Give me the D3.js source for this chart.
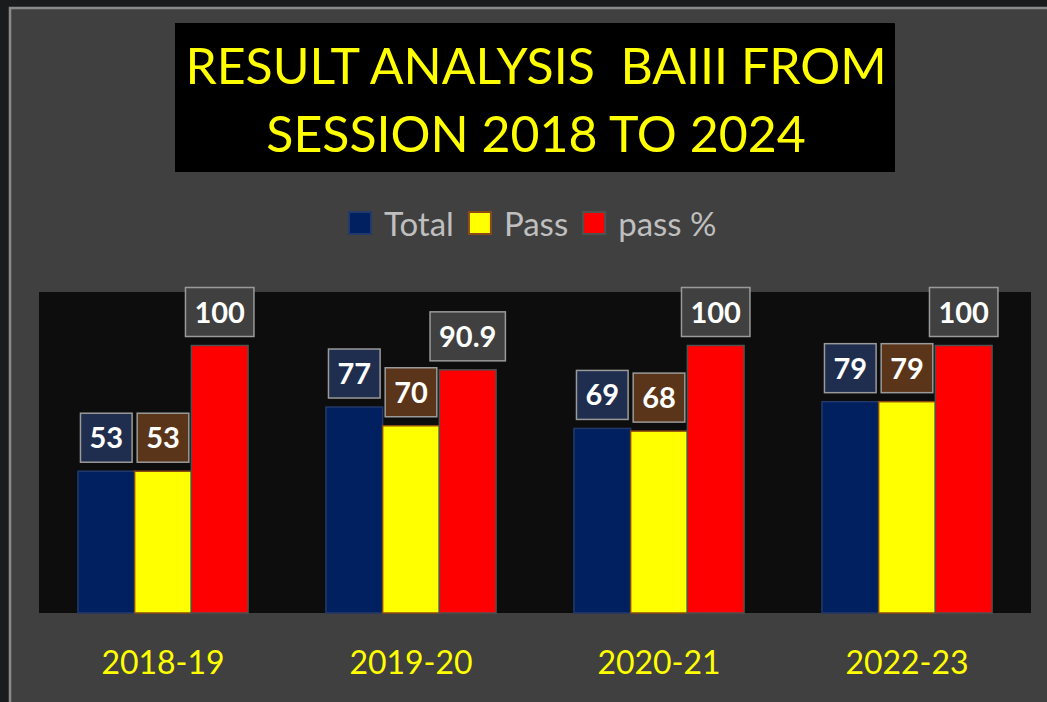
<!DOCTYPE html>
<html>
<head>
<meta charset="utf-8">
<script src="https://cdn.jsdelivr.net/npm/d3@7"></script>
<style>
  html, body { margin: 0; padding: 0; background: #1a1b1d; }
  svg { display: block; }
</style>
</head>
<body>
<div id="chart"></div>
<script>
// chart values
var sessions = ["2018-19", "2019-20", "2020-21", "2022-23"];
var series = ["Total", "Pass", "pass %"];
var totalValues = [53, 77, 69, 79];
var passValues = [53, 70, 68, 79];
var passPctValues = [100, 90.9, 100, 100];
var titleLines = ["RESULT ANALYSIS  BAIII FROM", "SESSION 2018 TO 2024"];

var width = 1047, height = 702;
var margin = { top: 292, right: 16, bottom: 89, left: 39 };

var colors = {
  "Total":  { fill: "#002060", stroke: "#23396a", label: "#1f2d4f" },
  "Pass":   { fill: "#ffff00", stroke: "#8a4a12", label: "#5b3519" },
  "pass %": { fill: "#ff0000", stroke: "#505050", label: "#404040" }
};

var data = sessions.map(function(s, i) {
  return {
    session: s,
    values: [
      { key: "Total", value: totalValues[i] },
      { key: "Pass", value: passValues[i] },
      { key: "pass %", value: passPctValues[i] }
    ]
  };
});

var svg = d3.select("#chart").append("svg")
  .attr("width", width)
  .attr("height", height);

// panel background with light border on left/top
svg.append("rect")
  .attr("x", 10).attr("y", 8)
  .attr("width", width).attr("height", height)
  .attr("fill", "#404040")
  .attr("stroke", "#8a8a8a")
  .attr("stroke-width", 2.5);

// title box
svg.append("rect")
  .attr("x", 175).attr("y", 23)
  .attr("width", 720).attr("height", 149)
  .attr("fill", "#000");

svg.selectAll(".title")
  .data(titleLines)
  .enter().append("text")
  .attr("class", "title")
  .attr("x", 536)
  .attr("y", function(d, i) { return 84 + i * 68; })
  .attr("text-anchor", "middle")
  .attr("fill", "#ffff00")
  .style("font-family", "Lato, 'Open Sans', sans-serif")
  .style("font-size", "50px")
  .style("white-space", "pre")
  .text(function(d) { return d; });

// legend
var legend = svg.append("g").attr("class", "legend");
var lx = 348;
series.forEach(function(s) {
  legend.append("rect")
    .attr("x", lx + 1).attr("y", 212)
    .attr("width", 22).attr("height", 22)
    .attr("fill", colors[s].fill)
    .attr("stroke", colors[s].stroke)
    .attr("stroke-width", 2);
  var t = legend.append("text")
    .attr("x", lx + 36).attr("y", 236)
    .attr("fill", "#bfbfbf")
    .style("font-family", "Lato, 'Open Sans', sans-serif")
    .style("font-size", "33px")
    .text(s);
  lx += 36 + t.node().getComputedTextLength() + 14;
});

// plot area
var plotW = width - margin.left - margin.right;
var plotH = height - margin.top - margin.bottom;

var plot = svg.append("g")
  .attr("transform", "translate(" + margin.left + "," + margin.top + ")");

plot.append("rect")
  .attr("width", plotW).attr("height", plotH)
  .attr("fill", "#0d0d0d");

var x0 = d3.scaleBand()
  .domain(sessions)
  .range([0, plotW]);

var gap = x0.bandwidth() * 0.157;
var x1 = d3.scaleBand()
  .domain(series)
  .range([gap, x0.bandwidth() - gap]);

var y = d3.scaleLinear()
  .domain([0, 120])
  .range([plotH, 0]);

var groups = plot.selectAll(".group")
  .data(data)
  .enter().append("g")
  .attr("class", "group")
  .attr("transform", function(d) { return "translate(" + x0(d.session) + ",0)"; });

groups.selectAll(".bar")
  .data(function(d) { return d.values; })
  .enter().append("rect")
  .attr("class", "bar")
  .attr("x", function(d) { return x1(d.key); })
  .attr("y", function(d) { return y(d.value); })
  .attr("width", x1.bandwidth())
  .attr("height", function(d) { return plotH - y(d.value); })
  .attr("fill", function(d) { return colors[d.key].fill; })
  .attr("stroke", function(d) { return colors[d.key].stroke; })
  .attr("stroke-width", 1.5);

// data labels in boxes above each bar
groups.selectAll(".label")
  .data(function(d) { return d.values; })
  .enter().append("g")
  .attr("class", "label")
  .each(function(d) {
    var g = d3.select(this);
    var cx = x1(d.key) + x1.bandwidth() / 2;
    var bottom = y(d.value) - 9;
    var box = g.append("rect");
    var t = g.append("text")
      .attr("x", cx)
      .attr("y", bottom - 14)
      .attr("text-anchor", "middle")
      .attr("fill", "#fff")
      .style("font-family", "Lato, 'Open Sans', sans-serif")
      .style("font-weight", "bold")
      .style("font-size", "29px")
      .text(d.value);
    var w = t.node().getComputedTextLength() + 18;
    box.attr("x", cx - w / 2)
      .attr("y", bottom - 49)
      .attr("width", w)
      .attr("height", 49)
      .attr("fill", colors[d.key].label)
      .attr("stroke", "#9a9a9a")
      .attr("stroke-width", 1.5);
  });

// category axis labels
plot.append("g")
  .attr("transform", "translate(0," + plotH + ")")
  .call(d3.axisBottom(x0).tickSize(0).tickPadding(0))
  .call(function(g) { g.select(".domain").remove(); })
  .selectAll("text")
  .attr("dy", 0)
  .attr("y", 61)
  .attr("fill", "#ffff00")
  .style("font-family", "Lato, 'Open Sans', sans-serif")
  .style("font-size", "32px");
</script>
</body>
</html>
